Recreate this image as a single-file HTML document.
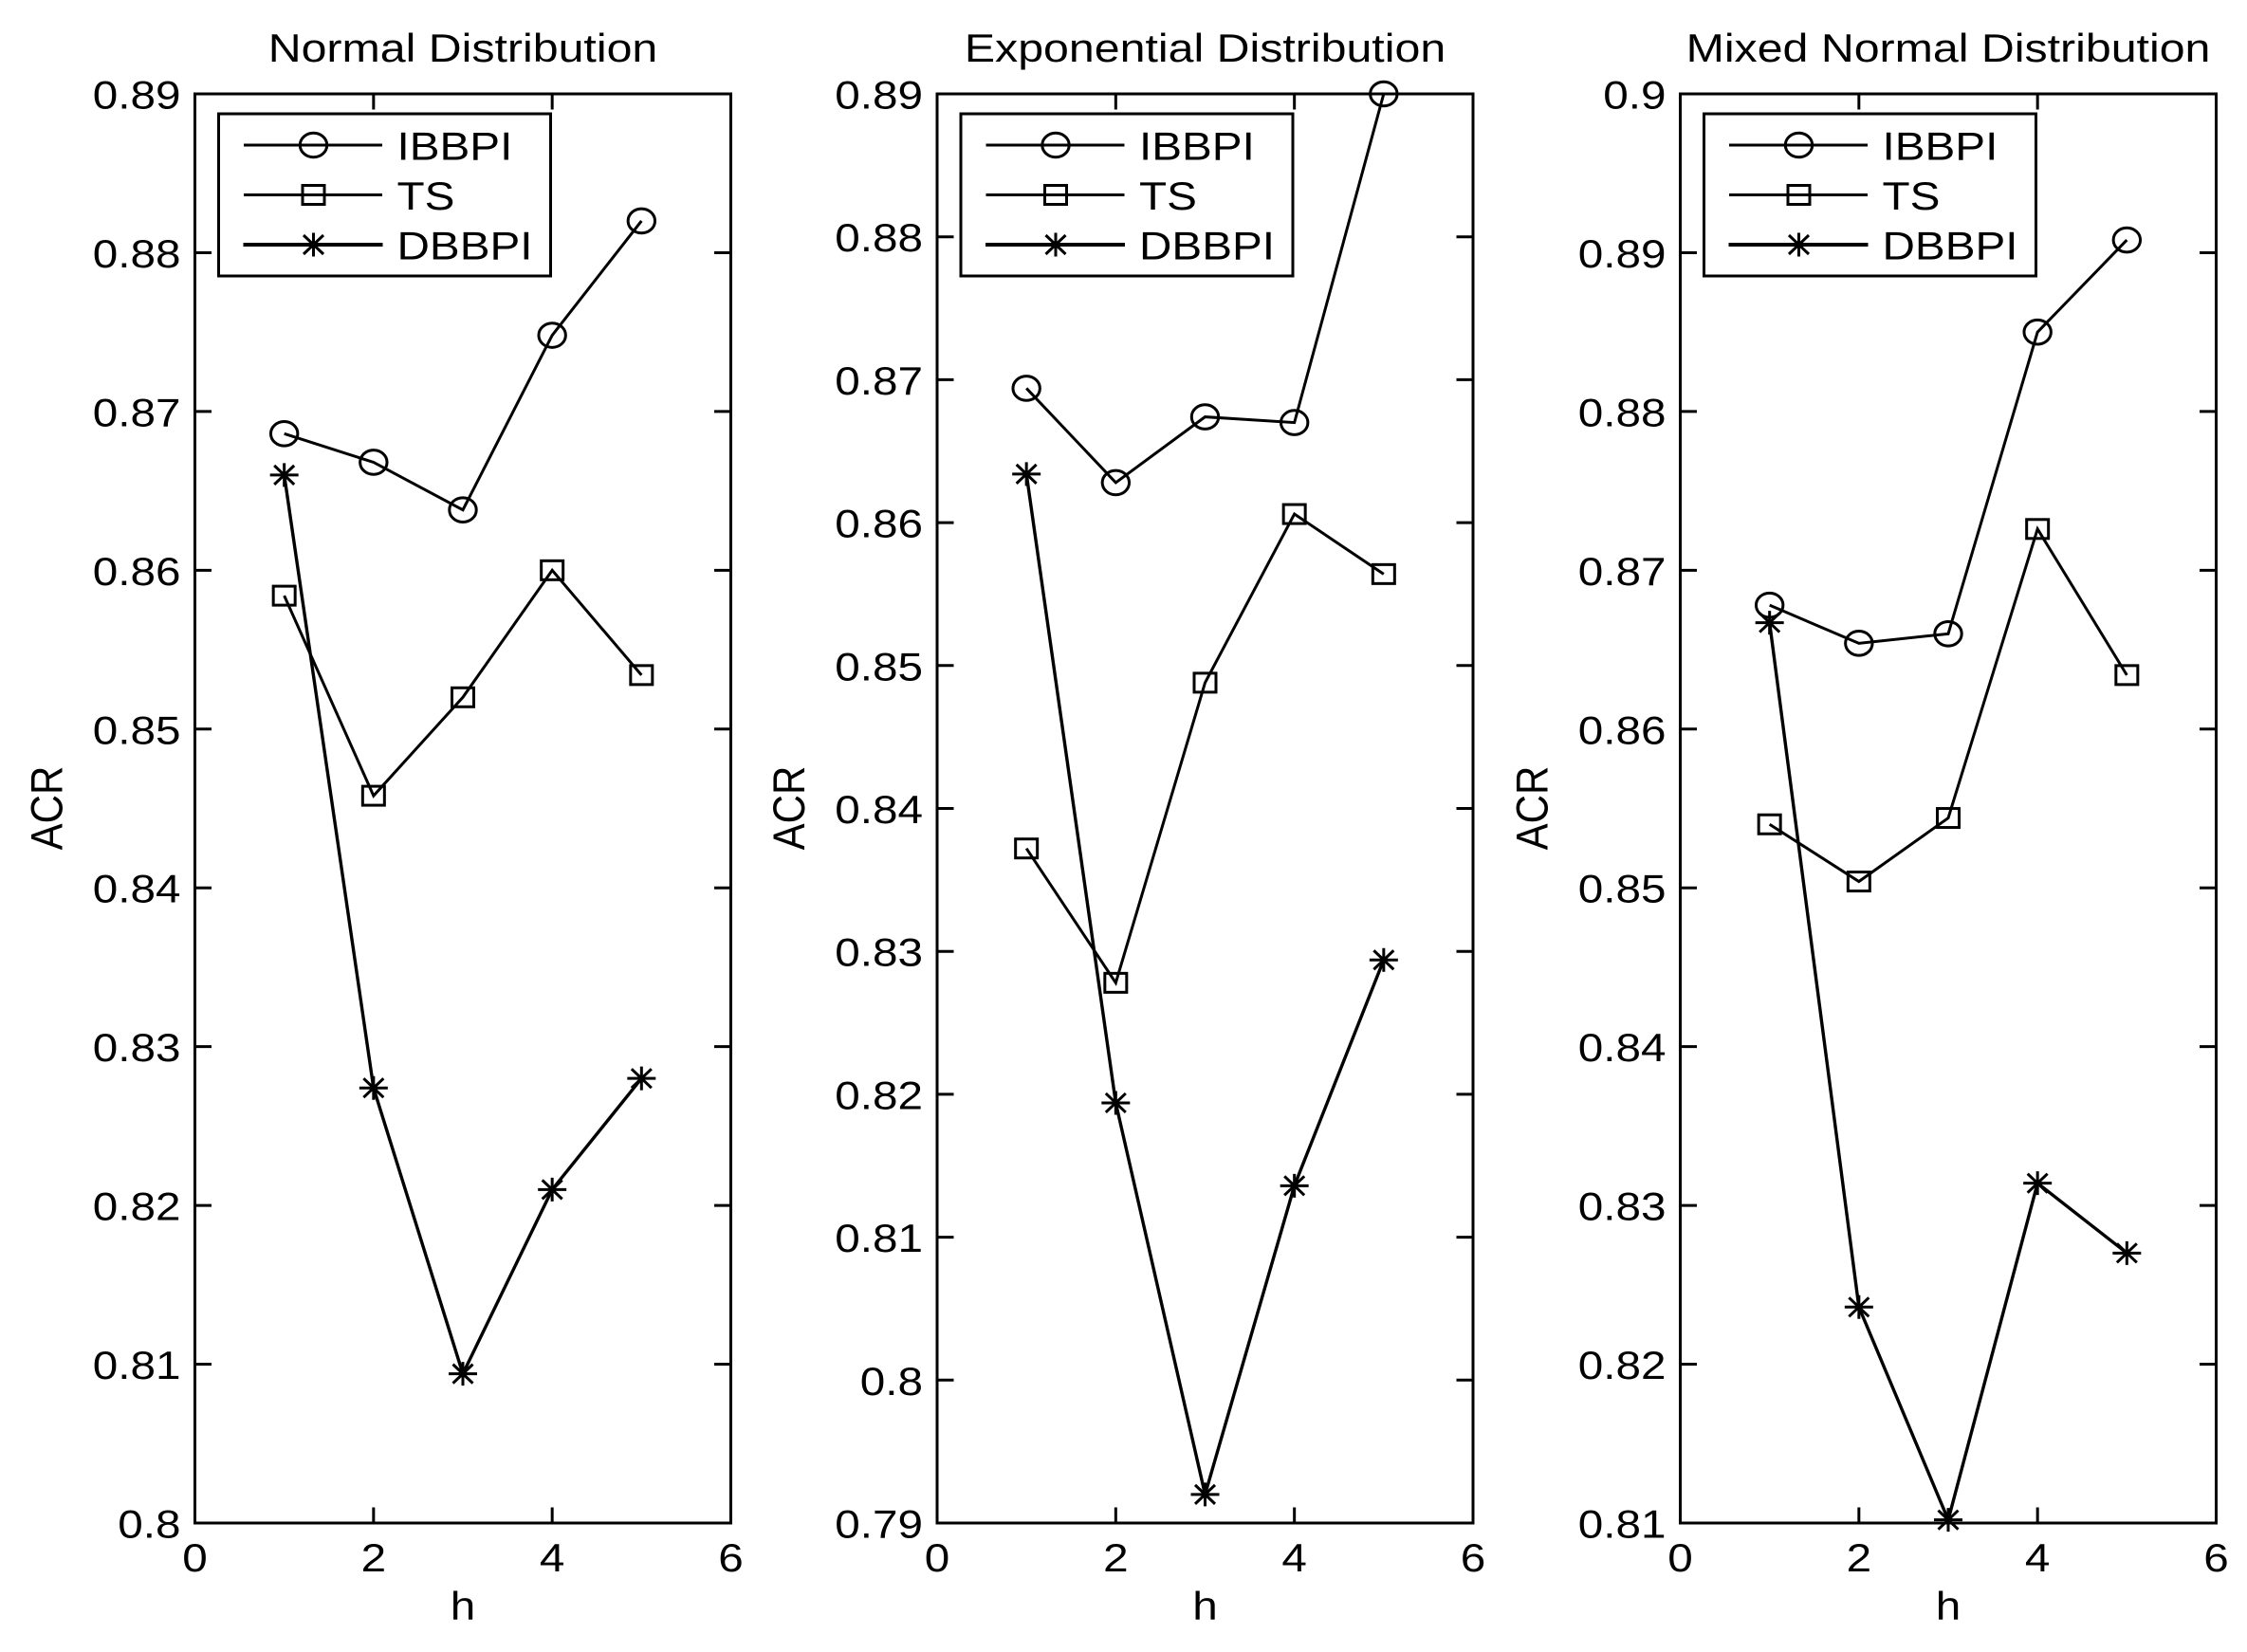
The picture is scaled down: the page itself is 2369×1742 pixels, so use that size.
<!DOCTYPE html>
<html lang="en">
<head>
<meta charset="utf-8">
<title>ACR by h for three distributions</title>
<style>
html,body{margin:0;padding:0;background:#fff;width:2369px;height:1742px;overflow:hidden}
svg{display:block}
text{font-family:"Liberation Sans",Arial,sans-serif;fill:#000}
</style>
</head>
<body>
<svg id="chart" xmlns="http://www.w3.org/2000/svg" width="2369" height="1742" viewBox="0 0 2369 1742"></svg>
<script>
const hValues = [1, 2, 3, 4, 5];
const xTickValues = [0, 2, 4, 6];
const seriesNames = ['IBBPI', 'TS', 'DBBPI'];

const normalTitle = 'Normal Distribution';
const normalYTicks = ['0.8', '0.81', '0.82', '0.83', '0.84', '0.85', '0.86', '0.87', '0.88', '0.89'];
const normalIBBPI = [0.8686, 0.8668, 0.8638, 0.8748, 0.8820];
const normalTS = [0.8584, 0.8458, 0.8520, 0.8600, 0.8534];
const normalDBBPI = [0.8660, 0.8274, 0.8094, 0.8210, 0.8280];

const exponentialTitle = 'Exponential Distribution';
const exponentialYTicks = ['0.79', '0.8', '0.81', '0.82', '0.83', '0.84', '0.85', '0.86', '0.87', '0.88', '0.89'];
const exponentialIBBPI = [0.8694, 0.8628, 0.8674, 0.8670, 0.8900];
const exponentialTS = [0.8372, 0.8278, 0.8488, 0.8606, 0.8564];
const exponentialDBBPI = [0.8634, 0.8194, 0.7920, 0.8136, 0.8294];

const mixedTitle = 'Mixed Normal Distribution';
const mixedYTicks = ['0.81', '0.82', '0.83', '0.84', '0.85', '0.86', '0.87', '0.88', '0.89', '0.9'];
const mixedIBBPI = [0.8678, 0.8654, 0.8660, 0.8850, 0.8908];
const mixedTS = [0.8540, 0.8504, 0.8544, 0.8726, 0.8634];
const mixedDBBPI = [0.8667, 0.8236, 0.8102, 0.8314, 0.8270];

const SVG_NS = 'http://www.w3.org/2000/svg';
const root = document.getElementById('chart');
const TOP = 99, BOTTOM = 1606, WIDTH = 565;
const XSTRETCH = 1.135;
const TITLE_STRETCH = 1.15;

function el(parent, tag, attrs, name, interactive) {
  const e = document.createElementNS(SVG_NS, tag);
  for (const k in attrs) e.setAttribute(k, attrs[k]);
  
  
  parent.appendChild(e);
  return e;
}

function line(parent, x1, y1, x2, y2, w, name) {
  return el(parent, 'line', {x1, y1, x2, y2, stroke: '#000', 'stroke-width': w, 'stroke-linecap': 'square'}, name, false);
}

function label(parent, str, x, y, size, anchor, name, stretch) {
  const t = el(parent, 'text', {
    transform: 'translate(' + x + ' ' + y + ') scale(' + (stretch || XSTRETCH) + ' 1)',
    'font-size': size,
    'text-anchor': anchor
  }, name, false);
  t.textContent = str;
  return t;
}

function marker(parent, kind, x, y, name) {
  const g = el(parent, 'g', {fill: 'none', stroke: '#000', 'stroke-width': 3}, name, false);
  if (kind === 0) {
    el(g, 'ellipse', {cx: x, cy: y, rx: 14.2, ry: 12.8}, name + '-circle', false);
  } else if (kind === 1) {
    el(g, 'rect', {x: x - 11.5, y: y - 10, width: 23, height: 20}, name + '-square', false);
  } else {
    el(g, 'path', {
      d: 'M' + (x - 15) + ' ' + y + 'H' + (x + 15) +
         'M' + x + ' ' + (y - 12.5) + 'V' + (y + 12.5) +
         'M' + (x - 10.5) + ' ' + (y - 10) + 'L' + (x + 10.5) + ' ' + (y + 10) +
         'M' + (x - 10.5) + ' ' + (y + 10) + 'L' + (x + 10.5) + ' ' + (y - 10)
    }, name + '-star', false);
  }
}

function drawPanel(left, key, title, yTicks, series) {
  const panel = el(root, 'g', {}, key + '-panel', false);
  const yMin = parseFloat(yTicks[0]);
  const yMax = parseFloat(yTicks[yTicks.length - 1]);
  const xScale = v => left + (v / 6) * WIDTH;
  const yScale = v => BOTTOM - ((v - yMin) / (yMax - yMin)) * (BOTTOM - TOP);
  const right = left + WIDTH;

  label(panel, title, left + WIDTH / 2, 65, 42, 'middle', key + '-title', TITLE_STRETCH);

  xTickValues.forEach(v => {
    const x = xScale(v);
    if (v > 0 && v < 6) {
      line(panel, x, BOTTOM, x, BOTTOM - 15, 3, key + '-x-tick-bottom');
      line(panel, x, TOP, x, TOP + 15, 3, key + '-x-tick-top');
    }
    label(panel, String(v), x, 1657, 42, 'middle', key + '-x-tick-label');
  });

  yTicks.forEach((s, i) => {
    const y = yScale(parseFloat(s));
    if (i > 0 && i < yTicks.length - 1) {
      line(panel, left, y, left + 16, y, 3, key + '-y-tick-left');
      line(panel, right, y, right - 16, y, 3, key + '-y-tick-right');
    }
    label(panel, s, left - 15, y + 15.5, 42, 'end', key + '-y-tick-label');
  });

  el(panel, 'rect', {x: left, y: TOP, width: WIDTH, height: BOTTOM - TOP, fill: 'none', stroke: '#000', 'stroke-width': 3}, key + '-plot-frame', false);

  label(panel, 'h', left + WIDTH / 2, 1708, 42, 'middle', key + '-x-axis-title');

  const yt = el(panel, 'text', {
    transform: 'translate(' + (left - 140) + ' 852) scale(' + XSTRETCH + ' 1) rotate(-90)',
    'font-size': 42,
    'text-anchor': 'middle'
  }, key + '-y-axis-title', false);
  yt.textContent = 'ACR';

  series.forEach((vals, s) => {
    const g = el(panel, 'g', {}, key + '-series-' + seriesNames[s].toLowerCase(), false);
    const pts = vals.map((v, i) => xScale(hValues[i]) + ',' + yScale(v)).join(' ');
    el(g, 'polyline', {points: pts, fill: 'none', stroke: '#000', 'stroke-width': s === 2 ? 3.4 : 3, 'stroke-linejoin': 'miter'}, key + '-line-' + seriesNames[s].toLowerCase(), false);
    vals.forEach((v, i) => marker(g, s, xScale(hValues[i]), yScale(v), key + '-point-' + seriesNames[s].toLowerCase()));
  });

  const legend = el(panel, 'g', {}, key + '-legend', true);
  el(legend, 'rect', {x: left + 25, y: 120, width: 350, height: 171, fill: '#fff', stroke: '#000', 'stroke-width': 3}, key + '-legend-box', false);
  const legendRows = [153, 205.5, 258];
  seriesNames.forEach((n, s) => {
    const y = legendRows[s];
    line(legend, left + 53, y, left + 196, y, s === 2 ? 4 : 3, key + '-legend-line-' + n.toLowerCase());
    marker(legend, s, left + 125, y, key + '-legend-marker-' + n.toLowerCase());
    label(legend, n, left + 213, y + 15.5, 42, 'start', key + '-legend-label-' + n.toLowerCase());
  });
}

drawPanel(205.5, 'normal', normalTitle, normalYTicks, [normalIBBPI, normalTS, normalDBBPI]);
drawPanel(988, 'exponential', exponentialTitle, exponentialYTicks, [exponentialIBBPI, exponentialTS, exponentialDBBPI]);
drawPanel(1771.5, 'mixed', mixedTitle, mixedYTicks, [mixedIBBPI, mixedTS, mixedDBBPI]);
</script>
</body>
</html>
